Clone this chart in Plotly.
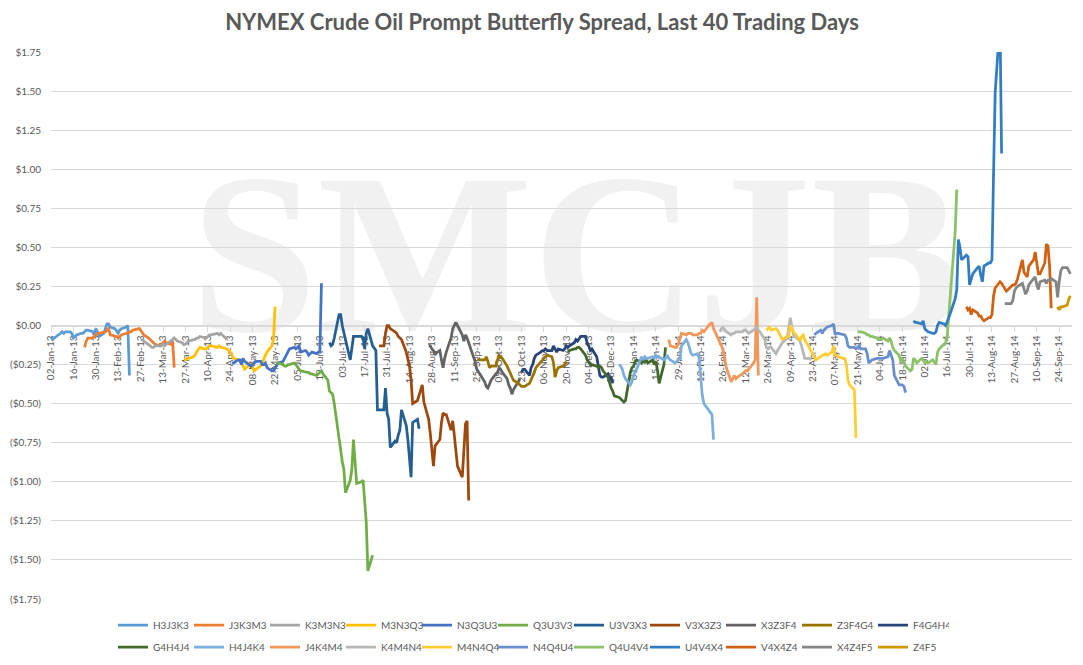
# ============================================================
#  NYMEX 원유 프롬프트 버터플라이 스프레드 (최근 40 거래일)
#  출력: out.html
# ============================================================

import pandas as pd
import plotly.graph_objects as go

# ── 데이터 ────────────────────────────────────────────────────
# 범례 순서대로 스프레드 이름
names = ["H3J3K3", "J3K3M3", "K3M3N3", "M3N3Q3", "N3Q3U3", "Q3U3V3",
         "U3V3X3", "V3X3Z3", "X3Z3F4", "Z3F4G4", "F4G4H4",
         "G4H4J4", "H4J4K4", "J4K4M4", "K4M4N4", "M4N4Q4", "N4Q4U4",
         "Q4U4V4", "U4V4X4", "V4X4Z4", "X4Z4F5", "Z4F5"]

# 각 시리즈의 첫 거래일 (이후 영업일 단위)
starts = ["2013-01-02", "2013-01-23", "2013-02-27", "2013-03-26", "2013-04-25",
          "2013-05-23", "2013-06-25", "2013-07-26", "2013-08-26", "2013-09-26",
          "2013-10-23", "2013-11-21", "2013-12-23", "2014-01-23", "2014-02-24",
          "2014-03-25", "2014-04-24", "2014-05-21", "2014-06-25", "2014-07-28",
          "2014-08-21", "2014-09-23"]

h3j3k3 = [-0.07, -0.09, -0.08, -0.06, -0.05, -0.04, -0.05, -0.04, -0.04, -0.05,
          -0.08, -0.07, -0.06, -0.05, -0.05, -0.04, -0.03, -0.03, -0.04, -0.06,
          -0.02, -0.04, -0.07, -0.05, -0.02, 0.01, 0.01, -0.01, -0.02, -0.04,
          -0.05, -0.03, -0.02, -0.01, 0.00, -0.32]
j3k3m3 = [-0.14, -0.10, -0.08, -0.08, -0.07, -0.06, -0.05, -0.05, -0.04, -0.04,
          -0.03, -0.02, -0.06, -0.07, -0.07, -0.08, -0.07, -0.06, -0.05, -0.05,
          -0.04, -0.04, -0.03, -0.02, -0.02, -0.03, -0.05, -0.06, -0.08, -0.09,
          -0.10, -0.11, -0.12, -0.13, -0.12, -0.11, -0.10, -0.11, -0.12, -0.10,
          -0.27]
k3m3n3 = [-0.09, -0.09, -0.10, -0.12, -0.13, -0.14, -0.14, -0.13, -0.13, -0.13,
          -0.12, -0.13, -0.12, -0.10, -0.09, -0.08, -0.09, -0.10, -0.11, -0.12,
          -0.12, -0.11, -0.10, -0.09, -0.09, -0.08, -0.08, -0.07, -0.08, -0.08,
          -0.07, -0.06, -0.06, -0.05, -0.05, -0.06, -0.05, -0.06, -0.09]
m3n3q3 = [-0.22, -0.22, -0.21, -0.21, -0.20, -0.19, -0.17, -0.15, -0.14, -0.15,
          -0.15, -0.14, -0.13, -0.13, -0.14, -0.14, -0.13, -0.14, -0.14, -0.15,
          -0.16, -0.17, -0.19, -0.21, -0.22, -0.23, -0.24, -0.26, -0.28, -0.25,
          -0.25, -0.27, -0.29, -0.28, -0.26, -0.24, -0.21, -0.19, -0.17, -0.13,
          -0.09, 0.12]
n3q3u3 = [-0.24, -0.24, -0.22, -0.22, -0.25, -0.21, -0.23, -0.25, -0.26, -0.25,
          -0.24, -0.23, -0.23, -0.25, -0.25, -0.24, -0.27, -0.29, -0.29, -0.27,
          -0.26, -0.24, -0.23, -0.21, -0.19, -0.16, -0.15, -0.14, -0.15, -0.14,
          -0.13, -0.17, -0.16, -0.17, -0.19, -0.18, -0.17, -0.18, -0.17, -0.17,
          0.27]
q3u3v3 = [-0.24, -0.24, -0.25, -0.26, -0.26, -0.25, -0.25,
          -0.24, -0.25, -0.27, -0.28, -0.29,
          -0.30, -0.30, -0.30, -0.31, -0.31,
          -0.32, -0.31, -0.30, -0.29, -0.31,
          -0.35, -0.42, -0.43, -0.44, -0.50,
          -0.72, -0.82, -0.87, -0.92, -1.07,
          -0.99, -0.92, -0.73, -0.90, -1.01,
          -1.00, -0.99, -1.12, -1.26, -1.57,
          -1.47]
u3v3x3 = [-0.11, -0.13, -0.12, -0.08,
          0.07, 0.07, 0.00, -0.05, -0.09,
          -0.22, -0.15, -0.07, -0.07, -0.07,
          -0.07, -0.08, -0.15, -0.05, -0.02,
          -0.13, -0.15, -0.16, -0.54, -0.54,
          -0.54, -0.40, -0.56, -0.60, -0.78,
          -0.74, -0.75, -0.70, -0.67, -0.54,
          -0.64, -0.73, -0.85, -0.97, -0.62,
          -0.60, -0.66]
v3x3z3 = [-0.13,
          -0.13, -0.05, 0.00, 0.00, -0.02,
          -0.04, -0.05, -0.07, -0.08, -0.09,
          -0.17, -0.22, -0.26, -0.35, -0.50,
          -0.48, -0.45, -0.42, -0.38, -0.49,
          -0.60, -0.69, -0.80, -0.90, -0.77,
          -0.73, -0.62, -0.56, -0.57, -0.57,
          -0.67, -0.61, -0.70, -0.80, -0.90,
          -0.97, -0.80, -0.63, -0.61, -1.12]
x3z3f4 = [-0.13, -0.13, -0.15, -0.16, -0.18,
          -0.16, -0.22, -0.27, -0.21, -0.17,
          -0.08, -0.02, 0.00, 0.02, 0.00,
          -0.06, -0.10, -0.06, -0.08, -0.11,
          -0.20, -0.23, -0.28, -0.30, -0.31,
          -0.36, -0.39, -0.40, -0.38, -0.35,
          -0.31, -0.30, -0.27, -0.28, -0.30,
          -0.34, -0.38, -0.40, -0.44, -0.41,
          -0.36, -0.34]
z3f4g4 = [-0.21, -0.22,
          -0.22, -0.20, -0.23, -0.27, -0.26,
          -0.26, -0.22, -0.19, -0.20, -0.21,
          -0.26, -0.28, -0.31, -0.33, -0.35,
          -0.37, -0.38, -0.39, -0.39, -0.39,
          -0.37, -0.35, -0.33, -0.30, -0.27,
          -0.23, -0.22, -0.21, -0.20, -0.19,
          -0.20, -0.24, -0.33, -0.29, -0.27,
          -0.26, -0.25, -0.23]
f4g4h4 = [-0.30, -0.28, -0.28,
          -0.32, -0.27, -0.25, -0.21, -0.19,
          -0.17, -0.16, -0.16, -0.15, -0.16,
          -0.16, -0.13, -0.15, -0.17, -0.15,
          -0.16, -0.15, -0.13, -0.14, -0.13,
          -0.11, -0.09, -0.10, -0.08, -0.07,
          -0.07, -0.11, -0.13, -0.16, -0.15,
          -0.20, -0.26, -0.32, -0.33, -0.33,
          -0.31, -0.34, -0.33, -0.37]
g4h4j4 = [-0.17, -0.16,
          -0.15, -0.15, -0.14, -0.14, -0.15,
          -0.19, -0.22, -0.24, -0.25, -0.25,
          -0.26, -0.27, -0.26, -0.27, -0.29,
          -0.33, -0.37, -0.40, -0.42, -0.45,
          -0.46, -0.47, -0.48, -0.49, -0.48,
          -0.30, -0.27, -0.26, -0.23, -0.22,
          -0.24, -0.21, -0.24, -0.22, -0.24,
          -0.22, -0.25, -0.23, -0.29, -0.37,
          -0.25, -0.14]
h4j4k4 = [-0.25, -0.26, -0.28, -0.32, -0.34,
          -0.38, -0.36, -0.32, -0.29, -0.28,
          -0.20, -0.22, -0.20, -0.21, -0.21,
          -0.20, -0.21, -0.19, -0.20, -0.20,
          -0.22, -0.21, -0.19, -0.21, -0.22,
          -0.24, -0.23, -0.22, -0.21, -0.13,
          -0.09, -0.11, -0.15, -0.18, -0.19,
          -0.18, -0.21, -0.34, -0.45, -0.50,
          -0.54, -0.56, -0.57, -0.73]
j4k4m4 = [-0.09, -0.13,
          -0.14, -0.14, -0.12, -0.08, -0.05,
          -0.06, -0.05, -0.05, -0.05, -0.06,
          -0.06, -0.05, -0.05, -0.03, -0.04,
          0.00, 0.01, 0.02, -0.02, -0.04,
          -0.10, -0.13, -0.16, -0.22, -0.27,
          -0.36, -0.34, -0.32, -0.34, -0.33,
          -0.31, -0.30, -0.29, -0.29, -0.28,
          -0.24, -0.22, 0.18, -0.32]
k4m4n4 = [-0.04, -0.02, -0.015, -0.03, -0.04,
          -0.06, -0.05, -0.05, -0.04, -0.04,
          -0.04, -0.03, -0.03, -0.04, -0.05,
          -0.03, -0.02, -0.01, -0.03, -0.04,
          -0.09, -0.14, -0.15, -0.14, -0.14,
          -0.18, -0.16, -0.14, -0.12, -0.11,
          -0.08, -0.02, 0.05, -0.01, -0.06,
          -0.09, -0.10, -0.13, -0.18, -0.21,
          -0.21, -0.22]
m4n4q4 = [-0.03, -0.02, -0.01, -0.03,
          -0.02, -0.03, -0.05, -0.08, -0.09,
          -0.07, -0.07, 0.00, -0.02, -0.04,
          -0.08, -0.10, -0.07, -0.06, -0.09,
          -0.15, -0.17, -0.19, -0.20, -0.22,
          -0.20, -0.19, -0.19, -0.18, -0.19,
          -0.17, -0.13, -0.19, -0.19, -0.20,
          -0.21, -0.21, -0.25, -0.35, -0.38,
          -0.41, -0.72]
n4q4u4 = [-0.06, -0.05,
          -0.03, -0.05, -0.03, -0.02, -0.01,
          0.00, 0.01, -0.06, -0.05, -0.05,
          -0.06, -0.06, -0.08, -0.13, -0.14,
          -0.14, -0.15, -0.14, -0.13, -0.15,
          -0.15, -0.18, -0.24, -0.23, -0.22,
          -0.21, -0.21, -0.21, -0.21, -0.21,
          -0.20, -0.16, -0.19, -0.22, -0.32,
          -0.38, -0.38, -0.38, -0.39, -0.43]
q4u4v4 = [-0.04, -0.04, -0.04,
          -0.05, -0.06, -0.06, -0.07, -0.07,
          -0.08, -0.09, -0.09, -0.09, -0.08,
          -0.10, -0.08, -0.10, -0.14, -0.16,
          -0.19, -0.23, -0.21, -0.24, -0.26,
          -0.29, -0.28, -0.21, -0.22, -0.24,
          -0.21, -0.22, -0.24, -0.23, -0.24,
          -0.22, -0.24, -0.25, -0.17, -0.15,
          -0.12, -0.11, -0.07, 0.05, 0.20,
          0.60, 0.87]
u4v4x4 = [0.03, 0.02, 0.02,
          0.01, 0.03, -0.02, -0.03, -0.04,
          -0.05, -0.05, -0.04, 0.00, 0.02,
          0.01, 0.00, 0.02, 0.05, 0.08,
          0.17, 0.23, 0.55, 0.50, 0.42,
          0.45, 0.44, 0.26, 0.29, 0.33,
          0.37, 0.38, 0.32, 0.28, 0.38,
          0.40, 0.40, 0.42, 0.98, 1.49,
          1.95, 1.10]
v4x4z4 = [0.12, 0.10, 0.11, 0.07, 0.10,
          0.08, 0.06, 0.06, 0.04, 0.03,
          0.05, 0.05, 0.07, 0.19, 0.24,
          0.28, 0.27, 0.25, 0.23, 0.22,
          0.25, 0.26, 0.26, 0.27, 0.30,
          0.42, 0.34, 0.32, 0.31, 0.38,
          0.42, 0.47, 0.38, 0.33, 0.33,
          0.40, 0.52, 0.51, 0.38, 0.11]
x4z4f5 = [0.14, 0.14,
          0.14, 0.16, 0.22, 0.24, 0.25,
          0.27, 0.24, 0.20, 0.22, 0.26,
          0.30, 0.31, 0.26, 0.23, 0.28,
          0.29, 0.27, 0.29, 0.29, 0.30,
          0.28, 0.18, 0.28, 0.35, 0.37,
          0.37, 0.35, 0.33]
z4f5 = [0.12, 0.10, 0.12, 0.12, 0.13, 0.17, 0.19]

series = [h3j3k3, j3k3m3, k3m3n3, m3n3q3, n3q3u3, q3u3v3, u3v3x3, v3x3z3,
          x3z3f4, z3f4g4, f4g4h4, g4h4j4, h4j4k4, j4k4m4, k4m4n4, m4n4q4,
          n4q4u4, q4u4v4, u4v4x4, v4x4z4, x4z4f5, z4f5]

# y축 눈금 (달러, 음수는 괄호)
y_tickvals = [1.75, 1.50, 1.25, 1.00, 0.75, 0.50, 0.25, 0.00,
              -0.25, -0.50, -0.75, -1.00, -1.25, -1.50, -1.75]
y_ticktext = [f"${v:.2f}" if v >= 0 else f"(${-v:.2f})" for v in y_tickvals]

# ── 스타일 (엑셀 기본 팔레트) ─────────────────────────────────
colors = ["#5B9BD5", "#ED7D31", "#A5A5A5", "#FFC000", "#4472C4", "#70AD47",
          "#255E91", "#9E480E", "#636363", "#997300", "#264478", "#43682B",
          "#7CAFDD", "#F1975A", "#B7B7B7", "#FFCD33", "#698ED0", "#8CC168",
          "#327DC2", "#D26012", "#848484", "#CC9A00"]
FONT = "Lato"
GREY = "#595959"
GRID = "#D9D9D9"
# 페이지 body 기본 여백(8px)만큼 보정한 플롯 영역 여백
MARGIN = dict(l=43, r=19, t=44, b=73)

fig = go.Figure()
for i, (name, start, vals) in enumerate(zip(names, starts, series)):
    dates = pd.bdate_range(start, periods=len(vals))
    fig.add_trace(go.Scatter(
        x=dates, y=vals, name=name, mode="lines",
        line=dict(color=colors[i], width=2.75),
        legend="legend" if i < 11 else "legend2",
    ))

legend_style = dict(
    orientation="h", x=0.0607, xanchor="left", yanchor="middle",
    entrywidth=31, entrywidthmode="pixels", itemwidth=30,
    font=dict(family=FONT, size=10, color=GREY),
    bgcolor="rgba(0,0,0,0)", tracegroupgap=0,
)

fig.update_layout(
    width=1083, height=665,
    margin=MARGIN,
    paper_bgcolor="white", plot_bgcolor="white",
    title=dict(text="<b>NYMEX Crude Oil Prompt Butterfly Spread, Last 40 Trading Days</b>",
               x=534 / 1083, xanchor="center", y=1 - 14 / 665, yanchor="middle",
               yref="container", font=dict(family=FONT, size=22, color=GREY)),
    legend=dict(legend_style, y=-0.046),
    legend2=dict(legend_style, y=-0.086),
    xaxis=dict(
        type="date", range=["2013-01-02", "2014-10-02"],
        anchor="free", position=0.5, automargin=False,
        tick0="2013-01-02", dtick=14 * 86400000, tickformat="%d-%b-%y",
        tickangle=-90, ticks="outside", ticklen=5, tickcolor=GRID,
        tickfont=dict(family=FONT, size=10, color=GREY),
        showgrid=False, showline=True, linecolor=GRID, linewidth=1,
        zeroline=False, layer="below traces",
    ),
    yaxis=dict(
        range=[-1.75, 1.75], tickvals=y_tickvals, ticktext=y_ticktext,
        tickfont=dict(family=FONT, size=10, color=GREY), automargin=False,
        showgrid=True, gridcolor=GRID, gridwidth=1,
        zeroline=False, showline=False, ticks="", ticklabelstandoff=9,
    ),
    hovermode="x unified",
)

# 배경 워터마크
fig.add_shape(
    type="rect", xref="paper", yref="paper",
    x0=0.15, x1=0.88, y0=0.541, y1=0.811,
    line=dict(width=0), fillcolor="rgba(0,0,0,0)", layer="below",
    label=dict(text="<b>SMCJB</b>", textposition="middle center",
               font=dict(family="Liberation Serif", size=228,
                         color="#F1F1F1", weight="bold")),
)

fig.write_html("out.html")
